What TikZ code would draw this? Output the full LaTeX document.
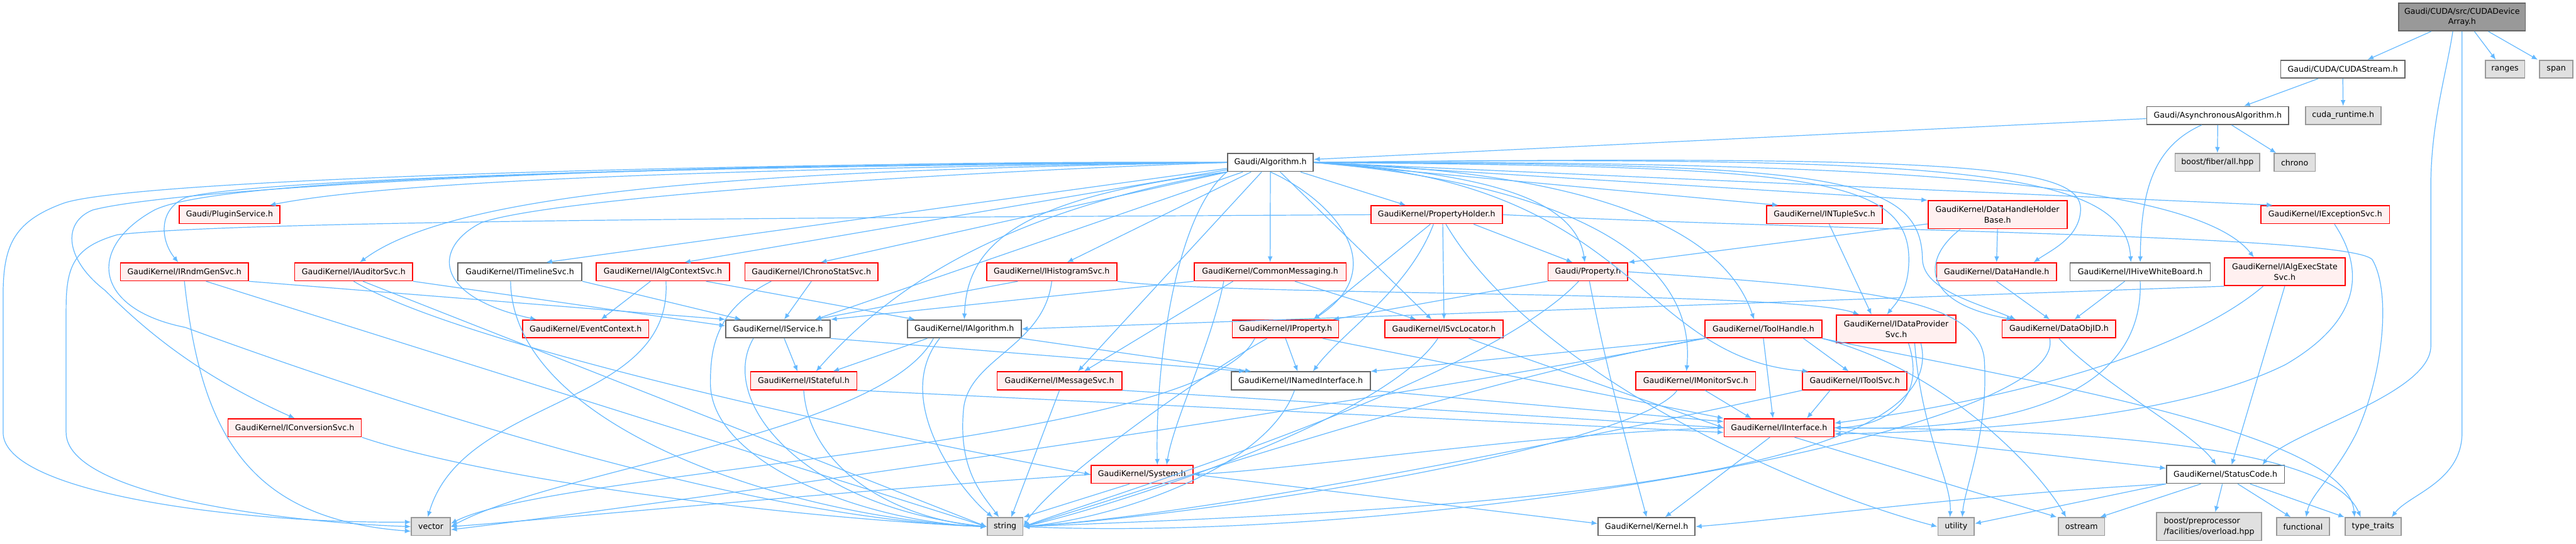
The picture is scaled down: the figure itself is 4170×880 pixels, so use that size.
\documentclass[tikz,border=0pt]{standalone}
\usepackage{fontspec}
\newfontfamily\nf{DejaVu Sans}
\usetikzlibrary{arrows.meta}
\definecolor{eb}{RGB}{99,184,255}
\definecolor{nodered}{RGB}{255,240,240}
\definecolor{gsix}{RGB}{102,102,102}
\definecolor{gnine}{RGB}{153,153,153}
\definecolor{extgray}{RGB}{224,224,224}
\tikzset{
  nd/.style={draw, rectangle, inner sep=0pt, minimum height=0.58cm, line width=1pt,
    font=\nf\fontsize{7.3pt}{9.7pt}\selectfont, align=center},
  rd/.style={nd, fill=nodered, draw=red},
  wt/.style={nd, fill=white, draw=gsix},
  ex/.style={nd, fill=extgray, draw=gnine},
  rt/.style={nd, fill=gnine, draw=gsix},
  two/.style={minimum height=0.9cm},
  wd/.style={minimum width=#1*0.02cm},
  e/.style={draw=eb, line width=0.7pt, -{Latex[length=5.5pt,width=4.5pt]}},
}
\begin{document}
\begin{tikzpicture}[x=0.02cm,y=-0.02cm]
\useasboundingbox (0,0) rectangle (4170,880);
% ---------------- nodes
\node[rt,wd=205,two] (R) at (3985.5,27.5) {Gaudi/CUDA/src/CUDADevice\\Array.h};
\node[wt,wd=201] (CS) at (3792.5,112) {Gaudi/CUDA/CUDAStream.h};
\node[ex,wd=64] (RA) at (4055,112) {ranges};
\node[ex,wd=54] (SP) at (4138,112) {span};
\node[wt,wd=230] (AS) at (3590,187) {Gaudi/AsynchronousAlgorithm.h};
\node[ex,wd=122] (CR) at (3793,187) {cuda\_runtime.h};
\node[wt,wd=139] (A) at (2056.5,263) {Gaudi/Algorithm.h};
\node[ex,wd=137] (FB) at (3589.5,263) {boost/fiber/all.hpp};
\node[ex,wd=67] (CHR) at (3714.5,263) {chrono};
\node[rd,wd=163] (PS) at (371.5,347.5) {Gaudi/PluginService.h};
\node[rd,wd=213] (PH) at (2325.5,347.5) {GaudiKernel/PropertyHolder.h};
\node[rd,wd=187] (NT) at (2953.5,347.5) {GaudiKernel/INTupleSvc.h};
\node[rd,wd=225,two] (DHHB) at (3233.5,347.5) {GaudiKernel/DataHandleHolder\\Base.h};
\node[rd,wd=208] (ES) at (3764,347.5) {GaudiKernel/IExceptionSvc.h};
\node[rd,wd=207] (RG) at (298.5,440) {GaudiKernel/IRndmGenSvc.h};
\node[rd,wd=191] (AU) at (572.5,440) {GaudiKernel/IAuditorSvc.h};
\node[wt,wd=201] (TL) at (841.5,440) {GaudiKernel/ITimelineSvc.h};
\node[rd,wd=216] (AC) at (1073,440) {GaudiKernel/IAlgContextSvc.h};
\node[rd,wd=215] (CH) at (1313.5,440) {GaudiKernel/IChronoStatSvc.h};
\node[rd,wd=211] (HI) at (1702.5,440) {GaudiKernel/IHistogramSvc.h};
\node[rd,wd=246] (CM) at (2056,440) {GaudiKernel/CommonMessaging.h};
\node[rd,wd=129] (P) at (2570.5,440) {Gaudi/Property.h};
\node[rd,wd=194] (DH) at (3232,440) {GaudiKernel/DataHandle.h};
\node[wt,wd=227] (HW) at (3464.5,440) {GaudiKernel/IHiveWhiteBoard.h};
\node[rd,wd=195,two] (AE) at (3698.5,440) {GaudiKernel/IAlgExecState\\Svc.h};
\node[rd,wd=204] (EC) at (948,532.5) {GaudiKernel/EventContext.h};
\node[wt,wd=169] (IS) at (1259.5,532.5) {GaudiKernel/IService.h};
\node[wt,wd=184] (IA) at (1561,532.5) {GaudiKernel/IAlgorithm.h};
\node[rd,wd=172] (IP) at (2081,532.5) {GaudiKernel/IProperty.h};
\node[rd,wd=191] (SL) at (2337.5,532.5) {GaudiKernel/ISvcLocator.h};
\node[rd,wd=189] (TH) at (2854.5,532.5) {GaudiKernel/ToolHandle.h};
\node[rd,wd=193,two] (DP) at (3069.5,532.5) {GaudiKernel/IDataProvider\\Svc.h};
\node[rd,wd=184] (DO) at (3333,532.5) {GaudiKernel/DataObjID.h};
\node[rd,wd=172] (ST) at (1301,616.5) {GaudiKernel/IStateful.h};
\node[rd,wd=202] (MS) at (1715,616.5) {GaudiKernel/IMessageSvc.h};
\node[wt,wd=225] (NI) at (2105.5,616.5) {GaudiKernel/INamedInterface.h};
\node[rd,wd=194] (MO) at (2745,616.5) {GaudiKernel/IMonitorSvc.h};
\node[rd,wd=169] (TS) at (3002.5,616.5) {GaudiKernel/IToolSvc.h};
\node[rd,wd=216] (CV) at (477,692.5) {GaudiKernel/IConversionSvc.h};
\node[rd,wd=178] (II) at (2880,692.5) {GaudiKernel/IInterface.h};
\node[rd,wd=165] (SY) at (1848.5,768) {GaudiKernel/System.h};
\node[wt,wd=191] (SC) at (3602.5,768) {GaudiKernel/StatusCode.h};
\node[ex,wd=63] (V) at (697.5,852.5) {vector};
\node[ex,wd=58] (S) at (1627,852.5) {string};
\node[wt,wd=157] (K) at (2665.5,852.5) {GaudiKernel/Kernel.h};
\node[ex,wd=59] (U) at (3166.5,852.5) {utility};
\node[ex,wd=75] (O) at (3369.5,852.5) {ostream};
\node[ex,wd=170,two,align=left] (BP) at (3576,852.5) {boost/preprocessor\\/facilities/overload.hpp};
\node[ex,wd=86] (F) at (3728,852.5) {functional};
\node[ex,wd=91] (TT) at (3841.5,852.5) {type\_traits};
% ---------------- root and CUDA
\draw[e] ([xshift=-1cm]R.south) -- ([xshift=0.8cm]CS.north);
\draw[e] ([xshift=0.4cm]R.south) -- ([xshift=-0.3cm]RA.north);
\draw[e] ([xshift=0.85cm]R.south) -- ([xshift=-0.6cm]SP.north);
\draw[e] ([xshift=-0.3cm]R.south) .. controls (3960,120) and (3935,200) .. (3935,300) -- (3935,560) .. controls (3935,640) and (3700,700) .. ([xshift=1.2cm]SC.north);
\draw[e] (R.south) -- (3985.5,700) .. controls (3985.5,780) and (3900,800) .. ([xshift=0.6cm]TT.north);
\draw[e] ([xshift=-0.8cm]CS.south) -- ([xshift=0.85cm]AS.north);
\draw[e] (CS.south) -- (CR.north);
\draw[e] ([yshift=-0.1cm]AS.west) -- ([yshift=0.1cm]A.east);
\draw[e] (AS.south) -- (FB.north);
\draw[e] ([xshift=0.45cm]AS.south) -- ([xshift=-0.6cm]CHR.north);
\draw[e] ([xshift=-0.52cm]AS.south) .. controls (3480,240) and (3466,320) .. (HW.north);
% ---------------- Algorithm.h fan
\draw[e] (A.west) .. controls (1000,275) and (600,300) .. ([xshift=1.3cm]PS.north);
\draw[e] (A.west) .. controls (1200,265) and (400,290) .. (300,320) .. controls (255,340) and (260,390) .. ([xshift=-0.2cm]RG.north);
\draw[e] (A.west) .. controls (1300,275) and (750,300) .. ([xshift=0.2cm]AU.north);
\draw[e] (A) -- ([xshift=0.85cm]TL.north);
\draw[e] (A) -- ([xshift=0.7cm]AC.north);
\draw[e] (A) -- ([xshift=0.3cm]CH.north);
\draw[e] (A) -- ([xshift=0.5cm]HI.north);
\draw[e] (A) -- (CM);
\draw[e] (A) -- ([xshift=-1cm]PH.north);
\draw[e] (A.east) .. controls (2400,280) and (2550,320) .. ([xshift=-0.1cm]P.north);
\draw[e] (A.east) -- ([xshift=-1.5cm]NT.north);
\draw[e] (A.east) -- (DHHB.north west);
\draw[e] (A.east) -- ([xshift=-1.7cm]ES.north);
\draw[e] (A.east) .. controls (3200,250) and (3370,270) .. (3368,340) .. controls (3366,385) and (3320,405) .. ([xshift=1.2cm]DH.north);
\draw[e] (A.east) .. controls (3200,250) and (3440,280) .. ([xshift=-0.3cm]HW.north);
\draw[e] (A.east) .. controls (3000,260) and (3550,290) .. ([xshift=-1cm]AE.north);
\draw[e] (A.west) .. controls (1200,258) and (300,300) .. (150,340) .. controls (100,360) and (105,420) .. (170,470) .. controls (260,560) and (350,620) .. (CV.north);
\draw[e] (A.west) .. controls (1500,280) and (900,320) .. (780,360) .. controls (700,400) and (700,480) .. ([xshift=-1.6cm]EC.north);
\draw[e] (A) -- ([xshift=1.2cm]IS.north);
\draw[e] (A.south west) .. controls (1640,320) and (1565,400) .. (IA.north);
\draw[e] (A.south) .. controls (2150,320) and (2260,430) .. ([xshift=0.9cm]IP.north);
\draw[e] (A) -- ([xshift=-0.4cm]SL.north);
\draw[e] (A.east) .. controls (2650,280) and (2800,400) .. ([xshift=-0.3cm]TH.north);
\draw[e] (A.east) .. controls (2900,270) and (3090,280) .. (3090,420) .. controls (3090,470) and (3070,490) .. ([xshift=-0.3cm]DP.north);
\draw[e] (A.east) .. controls (2950,265) and (3110,280) .. (3112,420) .. controls (3114,470) and (3200,490) .. ([xshift=-1.4cm]DO.north);
\draw[e] (A) -- ([xshift=0.6cm]MS.north);
\draw[e] (A.south west) .. controls (1700,330) and (1480,420) .. ([xshift=0.4cm]ST.north);
\draw[e] (A.east) .. controls (2450,290) and (2750,380) .. ([xshift=-0.3cm]MO.north);
\draw[e] (A.east) .. controls (2650,290) and (2650,580) .. ([xshift=-1.5cm]TS.north);
\draw[e] (A.south west) .. controls (1900,350) and (1870,600) .. ([xshift=0.5cm]SY.north);
\draw[e] (A.west) .. controls (1000,270) and (350,290) .. (250,340) .. controls (140,400) and (150,500) .. (300,530) .. controls (600,640) and (1200,840) .. (S.west);
\draw[e] (A.west) .. controls (1200,262) and (200,290) .. (100,330) .. controls (20,360) and (5,400) .. (5,480) -- (5,700) .. controls (5,800) and (400,848) .. ([yshift=0.15cm]V.west);
% ---------------- second level
\draw[e] (RG.south east) -- (IS.north west);
\draw[e] (RG.south) .. controls (325,700) and (400,840) .. ([yshift=-0.15cm]V.west);
\draw[e] ([xshift=0.7cm]RG.south) -- (S.west);
\draw[e] (AU.south east) -- ([yshift=0.1cm]IS.west);
\draw[e] ([xshift=0.3cm]AU.south) -- (S.west);
\draw[e] (AU.south) .. controls (750,560) and (1400,700) .. (SY.west);
\draw[e] (TL.south east) -- ([xshift=-1.2cm]IS.north);
\draw[e] ([xshift=-0.3cm]TL.south) .. controls (830,700) and (1300,840) .. (S.west);
\draw[e] ([xshift=-0.4cm]AC.south) -- ([xshift=0.5cm]EC.north);
\draw[e] ([xshift=1.4cm]AC.south) -- ([xshift=-1.6cm]IA.north);
\draw[e] ([xshift=0.1cm]AC.south) .. controls (1090,660) and (750,640) .. ([xshift=-0.1cm]V.north);
\draw[e] (CH.south) -- ([xshift=0.2cm]IS.north);
\draw[e] ([xshift=-1.3cm]CH.south) .. controls (1160,500) and (1150,560) .. (1150,620) .. controls (1150,750) and (1400,845) .. (S.west);
\draw[e] ([xshift=-1.1cm]HI.south) -- ([xshift=1.2cm]IS.north);
\draw[e] (HI.south) .. controls (1690,560) and (1570,580) .. (1560,660) .. controls (1550,760) and (1590,800) .. ([xshift=-0.2cm]S.north);
\draw[e] (HI.south east) .. controls (2000,480) and (2900,470) .. ([xshift=-1.2cm]DP.north);
\draw[e] (CM.south west) -- (IS.north east);
\draw[e] ([xshift=-1.2cm]CM.south) -- ([xshift=0.8cm]MS.north);
\draw[e] ([xshift=0.8cm]CM.south) -- ([xshift=-0.9cm]SL.north);
\draw[e] ([xshift=-1.5cm]CM.south) .. controls (1960,560) and (1900,680) .. ([xshift=0.8cm]SY.north);
\draw[e] ([xshift=1.2cm]PH.south) -- ([xshift=-0.5cm]P.north);
\draw[e] ([xshift=-0.2cm]PH.south) -- ([xshift=0.9cm]IP.north);
\draw[e] ([xshift=0.2cm]PH.south) -- (SL.north);
\draw[e] ([xshift=-0.1cm]PH.south) .. controls (2280,470) and (2170,540) .. ([xshift=0.4cm]NI.north);
\draw[e] ([xshift=0.3cm]PH.south) .. controls (2480,600) and (2900,790) .. (U.west);
\draw[e] (PH.west) .. controls (1500,352) and (400,355) .. (190,380) .. controls (120,400) and (107,430) .. (107,500) -- (107,700) .. controls (107,800) and (450,845) .. (V.west);
\draw[e] (PH.east) .. controls (3000,375) and (3800,380) .. (3840,420) .. controls (3870,470) and (3860,600) .. (3815,700) .. controls (3780,770) and (3740,800) .. ([xshift=0.1cm]F.north);
\draw[e] (P.south west) -- ([xshift=-0.2cm]IP.north east);
\draw[e] ([xshift=0.05cm]P.south) .. controls (2600,600) and (2650,780) .. (K.north);
\draw[e] ([xshift=-0.3cm]P.south) .. controls (2400,620) and (1800,800) .. (S.east);
\draw[e] (P.east) .. controls (3000,465) and (3200,480) .. (3212,580) .. controls (3220,700) and (3180,790) .. ([xshift=0.2cm]U.north);
\draw[e] ([xshift=0.15cm]NT.south) -- ([xshift=-0.8cm]DP.north);
\draw[e] (DHHB.south) -- (DH.north);
\draw[e] ([xshift=-1.2cm]DHHB.south) .. controls (3110,420) and (3110,490) .. ([xshift=-1.5cm]DO.north);
\draw[e] ([yshift=-0.3cm]DHHB.west) -- (P.north east);
\draw[e] (DH.south) -- ([xshift=-0.3cm]DO.north);
\draw[e] ([xshift=-0.5cm]HW.south) -- ([xshift=0.5cm]DO.north);
\draw[e] (HW.south) .. controls (3470,620) and (3300,700) .. (II.east);
\draw[e] (AE.south west) -- (IA.east);
\draw[e] (AE.south) -- ([xshift=0.2cm]SC.north);
\draw[e] ([xshift=-0.7cm]AE.south) .. controls (3550,560) and (3300,640) .. ([yshift=0.15cm]II.east);
\draw[e] ([xshift=0.3cm]ES.south) .. controls (3830,440) and (3820,520) .. (3700,590) .. controls (3500,690) and (3100,700) .. ([yshift=-0.2cm]II.east);
\draw[e] (CV.south east) .. controls (800,780) and (1300,840) .. (S.west);
% ---------------- third level
\draw[e] ([xshift=0.2cm]IS.south) -- ([xshift=-0.2cm]ST.north);
\draw[e] (IS.south east) -- ([xshift=-1.8cm]NI.north);
\draw[e] ([xshift=-0.8cm]IS.south) .. controls (1160,650) and (1300,820) .. (S.west);
\draw[e] ([xshift=-1.2cm]IA.south) -- ([xshift=0.95cm]ST.north);
\draw[e] (IA.south east) -- ([xshift=-1.6cm]NI.north);
\draw[e] ([xshift=-0.8cm]IA.south) .. controls (1440,650) and (1560,800) .. ([xshift=-0.4cm]S.north);
\draw[e] ([xshift=-1cm]IA.south) .. controls (1430,700) and (900,760) .. (V.east);
\draw[e] (IP.south) -- ([xshift=-0.1cm]NI.north);
\draw[e] ([xshift=1.2cm]IP.south) -- ([xshift=-1.8cm]II.north);
\draw[e] ([xshift=-0.6cm]IP.south) .. controls (1940,610) and (1700,780) .. (S.east);
\draw[e] ([xshift=-1cm]IP.south) .. controls (1950,720) and (900,760) .. ([yshift=0.1cm]V.east);
\draw[e] ([xshift=0.8cm]SL.south) -- (II.west);
\draw[e] ([xshift=-0.2cm]SL.south) .. controls (2240,680) and (1800,820) .. (S.east);
\draw[e] (TH.south west) -- (NI.north east);
\draw[e] ([xshift=1.3cm]TH.south) -- ([xshift=-0.2cm]TS.north);
\draw[e] (TH.south) -- ([xshift=-0.2cm]II.north);
\draw[e] (TH.south west) .. controls (2400,610) and (1900,780) .. (S.east);
\draw[e] (TH.south west) .. controls (2300,640) and (1200,800) .. ([yshift=-0.1cm]V.east);
\draw[e] (TH.south east) .. controls (3150,600) and (3300,760) .. ([xshift=-0.5cm]O.north);
\draw[e] (TH.south east) .. controls (3300,620) and (3800,700) .. ([xshift=-0.6cm]TT.north);
\draw[e] ([xshift=0.4cm]DP.south) .. controls (3120,650) and (3050,690) .. (II.east);
\draw[e] ([xshift=0.6cm]DP.south) .. controls (3110,700) and (3160,780) .. ([xshift=-0.2cm]U.north);
\draw[e] ([xshift=0.8cm]DP.south) .. controls (3170,800) and (2200,830) .. (S.east);
\draw[e] (DO.south) .. controls (3400,620) and (3550,700) .. ([xshift=-0.3cm]SC.north);
\draw[e] ([xshift=-0.3cm]DO.south) .. controls (3350,700) and (2300,880) .. (S.east);
\draw[e] (MS.south east) -- (II.west);
\draw[e] (MS.south) -- ([xshift=0.2cm]S.north);
\draw[e] (ST.south east) -- ([yshift=-0.15cm]II.west);
\draw[e] (ST.south) .. controls (1310,760) and (1450,840) .. (S.west);
\draw[e] (NI.south east) -- ([yshift=0.2cm]II.west);
\draw[e] ([xshift=-0.2cm]NI.south) .. controls (2050,760) and (1800,840) .. (S.east);
\draw[e] ([xshift=0.3cm]MO.south) -- ([xshift=-0.9cm]II.north);
\draw[e] ([xshift=-0.6cm]MO.south) .. controls (2650,720) and (2000,830) .. (S.east);
\draw[e] ([xshift=-0.8cm]TS.south) -- ([xshift=0.9cm]II.north);
\draw[e] (TS.south west) .. controls (2700,680) and (2000,830) .. (S.east);
% ---------------- bottom level
\draw[e] ([xshift=-0.3cm]II.south) -- ([xshift=0.6cm]K.north);
\draw[e] ([yshift=-0.1cm]II.east) -- ([yshift=0.2cm]SC.west);
\draw[e] ([xshift=0.5cm]II.south) -- ([xshift=-0.8cm]O.north);
\draw[e] (II.east) .. controls (3500,695) and (3780,740) .. ([xshift=-0.4cm]TT.north);
\draw[e] (II.west) .. controls (2500,700) and (2100,760) .. (SY.east);
\draw[e] ([xshift=-0.4cm]SY.south) -- (S.north east);
\draw[e] (SY.west) .. controls (1300,800) and (900,840) .. (V.east);
\draw[e] (SY.east) -- ([yshift=0.1cm]K.west);
\draw[e] (SC.south west) -- ([yshift=0.1cm]U.east);
\draw[e] ([xshift=-0.8cm]SC.south) -- ([xshift=0.6cm]O.north);
\draw[e] ([xshift=-0.1cm]SC.south) -- ([xshift=0.2cm]BP.north);
\draw[e] ([xshift=0.4cm]SC.south) -- ([xshift=-0.4cm]F.north);
\draw[e] ([xshift=0.8cm]SC.south) -- (TT.north west);
\draw[e] (SC.south west) .. controls (3200,800) and (2900,840) .. (K.east);
\end{tikzpicture}
\end{document}
